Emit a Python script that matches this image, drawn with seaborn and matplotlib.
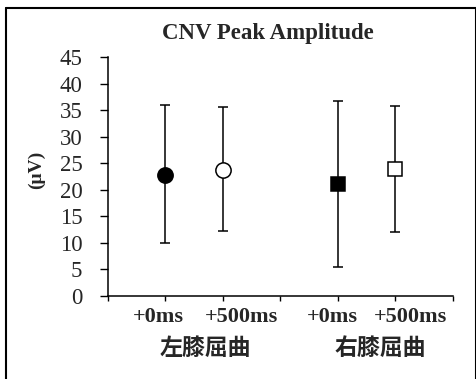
import matplotlib
matplotlib.use("Agg")
import matplotlib.pyplot as plt
import seaborn as sns
from matplotlib.lines import Line2D
from matplotlib.transforms import blended_transform_factory

sns.set_theme(style="white")
plt.rcParams['font.family'] = ['Liberation Serif', 'Noto Sans CJK SC']

# data
conditions = ['+0ms', '+500ms', '+0ms', '+500ms']
groups = ['左膝屈曲', '右膝屈曲']
xpos = [1, 2, 4, 5]
means = [22.8, 23.8, 21.1, 23.9]
lower = [10.0, 12.2, 5.4, 12.0]
upper = [35.9, 35.5, 36.8, 35.8]
markers = ['o', 'o', 's', 's']
faces = ['black', 'white', 'black', 'white']

fig = plt.figure(figsize=(4.77, 3.79), dpi=100)
ax = fig.add_axes([108 / 477, 1 - 296 / 379, 345 / 477, 239 / 379])

for x, m, lo, hi, mk, fc in zip(xpos, means, lower, upper, markers, faces):
    ax.errorbar([x], [m], yerr=[[m - lo], [hi - m]], fmt='none', ecolor='black',
                elinewidth=1.1, capsize=3.5, capthick=1.1, zorder=2)
    ax.plot([x], [m], marker=mk, markersize=11 if mk == 'o' else 10.5,
            markerfacecolor=fc, markeredgecolor='black', markeredgewidth=1.1,
            linestyle='none', zorder=3)

ax.set_xlim(0, 6)
ax.set_ylim(0, 45)
ax.set_yticks(range(0, 46, 5))
ax.set_xticks(range(0, 7))
ax.set_xticklabels([])
ax.tick_params(axis='both', direction='out', width=1, color='black',
               bottom=True, left=True)
ax.tick_params(axis='x', length=3.5)
ax.tick_params(axis='y', length=5.5, labelsize=16.5, pad=13)
for lab in ax.get_yticklabels():
    lab.set_family('Liberation Serif')
for s in ['top', 'right']:
    ax.spines[s].set_visible(False)
for s in ['left', 'bottom']:
    ax.spines[s].set_color('black')
    ax.spines[s].set_linewidth(1.1)

trans = blended_transform_factory(ax.transData, fig.transFigure)
label_x = [0.87, 2.32, 3.9, 5.26]
for lx, c in zip(label_x, conditions):
    ax.text(lx, 1 - 317 / 379, c, transform=trans, ha='center', va='center',
            fontsize=16, fontweight='bold', family='Liberation Serif')
for gx, g in zip([1.69, 4.73], groups):
    ax.text(gx, 1 - 348 / 379, g, transform=trans, ha='center', va='center',
            fontsize=16.5, fontweight='bold', family='Noto Sans CJK SC')

fig.text(268 / 477, 1 - 33 / 379, 'CNV Peak Amplitude', ha='center', va='center',
         fontsize=16.5, fontweight='bold', family='Liberation Serif')
fig.text(36 / 477, 1 - 170 / 379, '(μV)', ha='center', va='center', rotation=90,
         fontsize=14, fontweight='bold', family='Liberation Serif')

# outer frame
lw = 1.5
fig.add_artist(Line2D([6 / 477, 6 / 477], [0, 1 - 8 / 379], transform=fig.transFigure,
                      color='black', linewidth=lw))
fig.add_artist(Line2D([6 / 477, 476 / 477], [1 - 8 / 379, 1 - 8 / 379],
                      transform=fig.transFigure, color='black', linewidth=lw))
fig.add_artist(Line2D([476 / 477, 476 / 477], [0, 1 - 8 / 379], transform=fig.transFigure,
                      color='black', linewidth=lw))

fig.savefig('out.png', dpi=100)
